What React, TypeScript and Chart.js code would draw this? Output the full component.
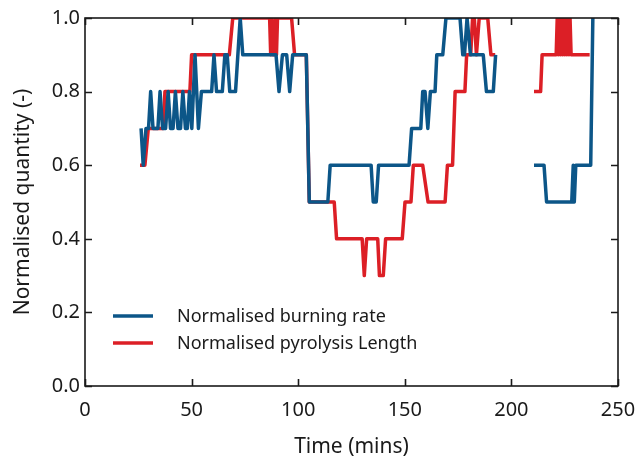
import { useEffect, useRef } from 'react';
import { Chart, registerables } from 'chart.js';

Chart.register(...registerables);

// Normalised burning rate (blue) — change points
const burnTimes = [
  26.3, 27.3, 28.6, 29.8, 30.8, 31.9, 34.2, 35.2, 36.4, 37.8, 39.0, 40.1, 41.3, 42.4, 43.6, 44.8,
  45.9, 47.1, 48.0, 49.0, 50.1, 51.6, 53.2, 54.6, 59.4, 60.5, 61.7, 64.4, 65.6, 66.7, 67.9, 70.6,
  72.8, 74.0, 89.6, 91.0, 92.6, 94.6, 96.0, 97.4, 103.8, 105.2, 113.9, 115.0, 134.2, 135.2, 136.6,
  137.7, 152.0, 153.2, 157.5, 158.4, 159.5, 160.8, 162.0, 164.2, 165.0, 167.8, 169.3, 175.9, 177.2,
  178.0, 179.2, 180.8, 186.8, 188.3, 191.5, 192.6,
  200,
  210.6, 215.3, 216.5, 228.3, 229.0, 229.5, 230.2, 237.2, 238.2,
];
const burnValues = [
  0.7, 0.6, 0.7, 0.7, 0.8, 0.7, 0.7, 0.8, 0.7, 0.7, 0.8, 0.7, 0.7, 0.8, 0.7, 0.7,
  0.8, 0.7, 0.7, 0.8, 0.7, 0.9, 0.7, 0.8, 0.8, 0.9, 0.8, 0.8, 0.9, 0.9, 0.8, 0.8,
  1.0, 0.9, 0.9, 0.8, 0.9, 0.9, 0.8, 0.9, 0.9, 0.5, 0.5, 0.6, 0.6, 0.5, 0.5,
  0.6, 0.6, 0.7, 0.7, 0.8, 0.8, 0.7, 0.8, 0.8, 0.9, 0.9, 1.0, 1.0, 0.9,
  0.9, 1.0, 0.9, 0.9, 0.8, 0.8, 0.9,
  null,
  0.6, 0.6, 0.5, 0.5, 0.6, 0.5, 0.6, 0.6, 1.0,
];

// Normalised pyrolysis length (red)
const pyroTimes = [
  25.8, 28.1, 29.7, 36.7, 37.5, 49.2, 50.0, 67.7, 69.3, 86.6, 87.1, 87.6, 88.1, 88.8, 89.3, 89.8,
  90.3, 96.9, 98.3, 103.8, 105.2, 116.9, 118.0, 130.0, 131.0, 132.1, 137.3, 138.1, 139.9, 141.0,
  148.8, 150.1, 152.9, 154.0, 158.4, 160.9, 168.9, 170.0, 172.4, 173.6, 178.2, 179.0, 180.9, 181.8,
  182.6, 183.6, 184.9, 188.9, 190.4, 192.4,
  200,
  210.6, 213.7, 214.4, 221.0, 221.5, 222.0, 222.5, 223.0, 223.5, 224.0, 224.5, 225.0, 225.5, 226.0,
  226.5, 227.0, 227.5, 228.0, 236.7,
];
const pyroValues = [
  0.6, 0.6, 0.7, 0.7, 0.8, 0.8, 0.9, 0.9, 1.0, 1.0, 0.9, 1.0, 0.9, 0.9, 1.0, 0.9,
  1.0, 1.0, 0.9, 0.9, 0.5, 0.5, 0.4, 0.4, 0.3, 0.4, 0.4, 0.3, 0.3, 0.4,
  0.4, 0.5, 0.5, 0.6, 0.6, 0.5, 0.5, 0.6, 0.6, 0.8, 0.8, 0.9, 0.9, 1.0,
  1.0, 0.9, 1.0, 1.0, 0.9, 0.9,
  null,
  0.8, 0.8, 0.9, 0.9, 1.0, 0.9, 1.0, 0.9, 1.0, 0.9, 1.0, 0.9, 1.0, 0.9,
  1.0, 0.9, 1.0, 0.9, 0.9,
];

const seriesLabels = ['Normalised burning rate', 'Normalised pyrolysis Length'];
const seriesColors = ['#0c5688', '#dc1f26'];
const xTicks = [0, 50, 100, 150, 200, 250];
const yTicks = [0, 0.2, 0.4, 0.6, 0.8, 1.0];
const xTitle = 'Time (mins)';
const yTitle = 'Normalised quantity (-)';

const FONT = "'Noto Sans', sans-serif";
const TEXT = '#1a1a1a';
const LINE_W = 3.5;

const framePlugin = {
  id: 'frameAndLegend',
  afterDraw(chart: any) {
    const { ctx, chartArea: a, scales } = chart;
    ctx.save();
    ctx.strokeStyle = TEXT;
    ctx.lineWidth = 1.6;
    ctx.strokeRect(a.left, a.top, a.right - a.left, a.bottom - a.top);
    const L = 7;
    ctx.beginPath();
    xTicks.forEach((v) => {
      const px = Math.round(scales.x.getPixelForValue(v)) + 0.5;
      ctx.moveTo(px, a.bottom);
      ctx.lineTo(px, a.bottom - L);
      ctx.moveTo(px, a.top);
      ctx.lineTo(px, a.top + L);
    });
    yTicks.forEach((v) => {
      const py = Math.round(scales.y.getPixelForValue(v)) + 0.5;
      ctx.moveTo(a.left, py);
      ctx.lineTo(a.left + L, py);
      ctx.moveTo(a.right, py);
      ctx.lineTo(a.right - L, py);
    });
    ctx.stroke();

    // legend inside the axes, lower left
    const ds = chart.data.datasets;
    ctx.font = `18px ${FONT}`;
    ctx.textBaseline = 'middle';
    ctx.textAlign = 'left';
    ds.forEach((d: any, i: number) => {
      const y = a.bottom - 70 + i * 27;
      ctx.strokeStyle = d.borderColor;
      ctx.lineWidth = LINE_W;
      ctx.beginPath();
      ctx.moveTo(a.left + 28, y);
      ctx.lineTo(a.left + 68, y);
      ctx.stroke();
      ctx.fillStyle = TEXT;
      ctx.fillText(d.label, a.left + 92, y + 1);
    });
    ctx.restore();
  },
};

export default function App() {
  const ref = useRef<HTMLCanvasElement | null>(null);

  useEffect(() => {
    if (!ref.current) return;
    const mk = (times: number[], vals: (number | null)[]) =>
      times.map((t, i) => ({ x: t, y: vals[i] }));
    const chart = new Chart(ref.current, {
      type: 'line',
      data: {
        datasets: [
          {
            label: seriesLabels[0],
            data: mk(burnTimes, burnValues),
            borderColor: seriesColors[0],
            backgroundColor: seriesColors[0],
            borderWidth: LINE_W,
            pointRadius: 0,
            tension: 0,
            spanGaps: false,
            borderJoinStyle: 'round',
          },
          {
            label: seriesLabels[1],
            data: mk(pyroTimes, pyroValues),
            borderColor: seriesColors[1],
            backgroundColor: seriesColors[1],
            borderWidth: LINE_W,
            pointRadius: 0,
            tension: 0,
            spanGaps: false,
            borderJoinStyle: 'round',
          },
        ],
      },
      options: {
        responsive: false,
        animation: false,
        devicePixelRatio: 1,
        layout: { padding: { top: 18, right: 20, left: 0, bottom: 0 } },
        plugins: { legend: { display: false }, tooltip: { enabled: false } },
        scales: {
          x: {
            type: 'linear',
            min: 0,
            max: 250,
            afterBuildTicks: (s: any) => {
              s.ticks = xTicks.map((v) => ({ value: v }));
            },
            ticks: {
              font: { family: FONT, size: 20 },
              color: TEXT,
              padding: 12,
              maxRotation: 0,
              callback: (v: any) => String(v),
            },
            grid: { display: false, drawTicks: false },
            border: { display: false },
            title: {
              display: true,
              text: xTitle,
              font: { family: FONT, size: 21 },
              color: TEXT,
              padding: { top: 0, bottom: 5 },
            },
            afterFit: (s: any) => {
              s.height = 79;
              s.paddingLeft = 0;
              s.paddingRight = 0;
            },
          },
          y: {
            type: 'linear',
            min: 0,
            max: 1,
            afterBuildTicks: (s: any) => {
              s.ticks = yTicks.map((v) => ({ value: v }));
            },
            ticks: {
              font: { family: FONT, size: 20 },
              color: TEXT,
              padding: 5,
              callback: (v: any) => Number(v).toFixed(1),
            },
            grid: { display: false, drawTicks: false },
            border: { display: false },
            title: {
              display: true,
              text: yTitle,
              font: { family: FONT, size: 21 },
              color: TEXT,
              padding: { top: 10, bottom: 0 },
            },
            afterFit: (s: any) => {
              s.width = 85;
              s.paddingTop = 0;
              s.paddingBottom = 0;
            },
          },
        },
      },
      plugins: [framePlugin],
    });
    return () => chart.destroy();
  }, []);

  return (
    <div style={{ position: 'absolute', left: 0, top: 0, width: 638, height: 465, background: '#fff' }}>
      <canvas ref={ref} width={638} height={465} style={{ display: 'block' }} />
    </div>
  );
}
